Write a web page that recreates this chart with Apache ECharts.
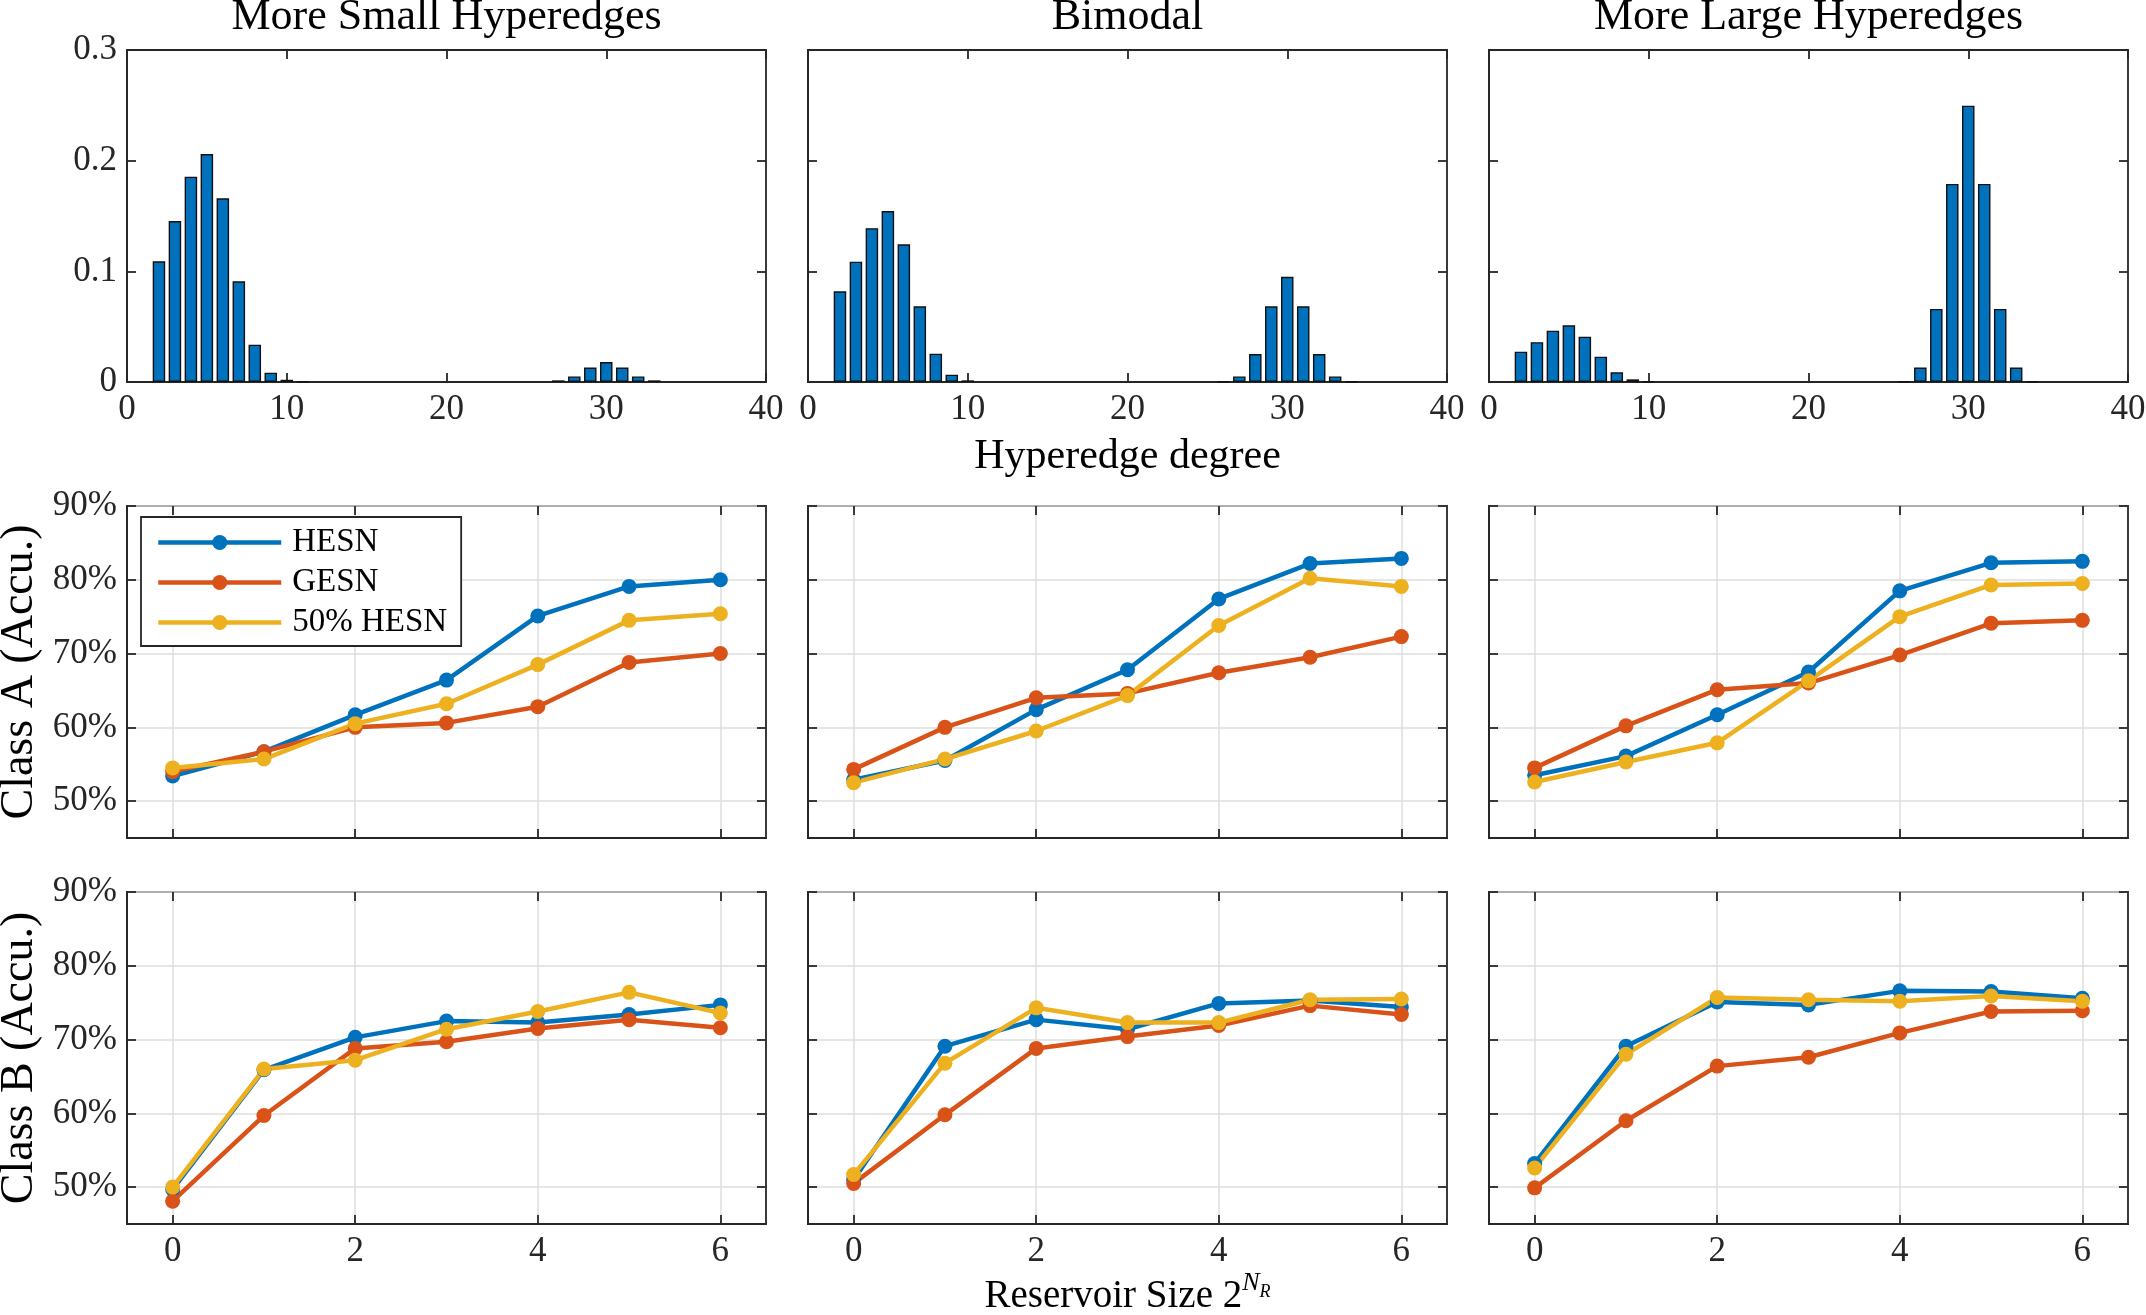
<!DOCTYPE html>
<html>
<head>
<meta charset="utf-8">
<script src="https://cdn.jsdelivr.net/npm/echarts@6/dist/echarts.min.js"></script>
<style>
html, body { margin: 0; padding: 0; background: #fff; }
#main { width: 2146px; height: 1315px; }
</style>
</head>
<body>
<div id="main"></div>
<script>
// hyperedge degree histograms (probability per degree)
const degrees = [2, 3, 4, 5, 6, 7, 8, 9, 10, 11, 26, 27, 28, 29, 30, 31, 32, 33, 34]
const histSmall = [0.109, 0.1455, 0.1855, 0.206, 0.166, 0.091, 0.0337, 0.0084, 0.002, 0.0005, 0, 0.0015, 0.005, 0.013, 0.018, 0.013, 0.005, 0.0015, 0]
const histBimodal = [0.082, 0.1087, 0.139, 0.1545, 0.1244, 0.0684, 0.0256, 0.0066, 0.0015, 0, 0.0005, 0.005, 0.0253, 0.0684, 0.095, 0.0684, 0.0253, 0.005, 0.0005]
const histLarge = [0.0274, 0.036, 0.0464, 0.0512, 0.041, 0.0229, 0.0087, 0.0024, 0.0005, 0, 0.0005, 0.013, 0.066, 0.179, 0.2497, 0.179, 0.066, 0.013, 0.0005]

// reservoir size exponent N_R
const nR = [0, 1, 2, 3, 4, 5, 6]

// Class A accuracy (%)
const aSmallHESN = [53.4, 56.7, 61.7, 66.4, 75.1, 79.1, 80.0]
const aSmallGESN = [54.0, 56.7, 60.0, 60.6, 62.8, 68.8, 70.0]
const aSmallHalf = [54.5, 55.7, 60.5, 63.2, 68.5, 74.5, 75.4]
const aBiHESN = [52.9, 55.5, 62.4, 67.8, 77.4, 82.2, 82.9]
const aBiGESN = [54.3, 60.0, 64.0, 64.6, 67.4, 69.5, 72.3]
const aBiHalf = [52.5, 55.7, 59.5, 64.3, 73.8, 80.2, 79.1]
const aLargeHESN = [53.5, 56.1, 61.7, 67.5, 78.5, 82.3, 82.5]
const aLargeGESN = [54.5, 60.2, 65.1, 66.0, 69.8, 74.1, 74.5]
const aLargeHalf = [52.6, 55.3, 57.9, 66.3, 75.0, 79.3, 79.5]

// Class B accuracy (%)
const bSmallHESN = [49.7, 65.9, 70.3, 72.5, 72.3, 73.4, 74.7]
const bSmallGESN = [48.1, 59.7, 68.8, 69.7, 71.5, 72.7, 71.6]
const bSmallHalf = [50.0, 66.0, 67.2, 71.4, 73.8, 76.4, 73.6]
const bBiHESN = [51.0, 69.1, 72.7, 71.4, 74.9, 75.3, 74.4]
const bBiGESN = [50.5, 59.8, 68.8, 70.4, 71.9, 74.6, 73.4]
const bBiHalf = [51.7, 66.8, 74.3, 72.3, 72.3, 75.4, 75.5]
const bLargeHESN = [53.2, 69.1, 75.1, 74.7, 76.6, 76.5, 75.6]
const bLargeGESN = [49.9, 59.0, 66.4, 67.6, 70.9, 73.8, 73.9]
const bLargeHalf = [52.6, 68.0, 75.7, 75.4, 75.2, 75.9, 75.2]

const colTitles = ['More Small Hyperedges', 'Bimodal', 'More Large Hyperedges']
const seriesNames = ['HESN', 'GESN', '50% HESN']
const lineXTicks = [0, 2, 4, 6]
const accTicks = [50, 60, 70, 80, 90]

const histData = [histSmall, histBimodal, histLarge]
const classA = [[aSmallHESN, aSmallGESN, aSmallHalf], [aBiHESN, aBiGESN, aBiHalf], [aLargeHESN, aLargeGESN, aLargeHalf]]
const classB = [[bSmallHESN, bSmallGESN, bSmallHalf], [bBiHESN, bBiGESN, bBiHalf], [bLargeHESN, bLargeGESN, bLargeHalf]]

const font = 'Liberation Serif'
const axisColor = '#262626'
const lineColors = ['#0072BD', '#D95319', '#EDB120']
const colLeft = [127, 808, 1489]
const colWidth = 639
const rowTop = [50, 506, 892]
const rowHeight = 332
const tickLen = 9

const axisLine = {show: true, onZero: false, lineStyle: {color: axisColor, width: 1.8}}
const tickLabel = {
    fontFamily: font,
    fontSize: 35,
    color: axisColor,
    margin: 10
}
const gridLine = {show: true, lineStyle: {color: '#dedede', width: 1.5}}

let grids = [], xAxes = [], yAxes = [], series = []

// MATLAB-style inward ticks: thin strips along each border whose split lines act as ticks
const addTickStrips = (left, top, xBase, yBase, xCustom, yCustom) => {
    const strips = [
        {box: {left: left, top: top + rowHeight - tickLen, width: colWidth, height: tickLen}, dim: 'x'},
        {box: {left: left, top: top, width: colWidth, height: tickLen}, dim: 'x'},
        {box: {left: left, top: top, width: tickLen, height: rowHeight}, dim: 'y'},
        {box: {left: left + colWidth - tickLen, top: top, width: tickLen, height: rowHeight}, dim: 'y'}
    ]
    strips.forEach(s => {
        let gi = grids.length
        grids.push(Object.assign({show: false, outerBoundsMode: 'none', containLabel: false}, s.box))
        let shown = {
            show: true,
            axisLine: {show: false},
            axisLabel: {show: false},
            splitLine: {show: true, lineStyle: {color: axisColor, width: 1.8}}
        }
        let hidden = {show: false, type: 'value', gridIndex: gi}
        if (s.dim === 'x') {
            xAxes.push(Object.assign({}, xBase, shown, {gridIndex: gi, axisTick: {show: false, customValues: xCustom}}))
            yAxes.push(hidden)
        }
        else {
            xAxes.push(hidden)
            yAxes.push(Object.assign({}, yBase, shown, {gridIndex: gi, axisTick: {show: false, customValues: yCustom}}))
        }
    })
}

for (let r = 0; r < 3; r++) {
    for (let c = 0; c < 3; c++) {
        let g = grids.length
        grids.push({
            left: colLeft[c], top: rowTop[r], width: colWidth, height: rowHeight,
            show: true, borderColor: axisColor, borderWidth: 1.8,
            outerBoundsMode: 'none', containLabel: false
        })
        let xi = xAxes.length, yi = yAxes.length
        let xBase, yBase, xCustom, yCustom
        if (r === 0) {
            // histogram panel
            xBase = {type: 'value', min: 0, max: 40, interval: 10}
            yBase = {type: 'value', min: 0, max: 0.3, interval: 0.1}
            let bottomX = Object.assign({}, xBase, {
                gridIndex: g, position: 'bottom', axisLine: axisLine, axisTick: {show: false}, splitLine: {show: false},
                axisLabel: Object.assign({show: true}, tickLabel)
            })
            if (c === 1) {
                bottomX.name = 'Hyperedge degree'
                bottomX.nameLocation = 'middle'
                bottomX.nameGap = 54
                bottomX.nameTextStyle = {fontFamily: font, fontSize: 42, color: '#000'}
            }
            xAxes.push(bottomX)
            yAxes.push(Object.assign({}, yBase, {
                gridIndex: g, position: 'left', axisLine: axisLine, axisTick: {show: false}, splitLine: {show: false},
                axisLabel: Object.assign({show: c === 0}, tickLabel)
            }))
            series.push({
                type: 'bar',
                name: 'hist',
                xAxisIndex: xi, yAxisIndex: yi,
                barWidth: 12.5,
                silent: true,
                itemStyle: {color: '#0072BD', borderColor: '#111', borderWidth: 1.4},
                data: degrees.map((d, i) => [d, histData[c][i]]).filter(p => p[1] > 0)
            })
        }
        else {
            // accuracy panel
            xBase = {type: 'value', min: -0.5, max: 6.5}
            yBase = {type: 'value', min: 45, max: 90}
            xCustom = lineXTicks
            yCustom = accTicks
            let bottomX = Object.assign({}, xBase, {
                gridIndex: g, position: 'bottom', axisLine: axisLine, splitLine: gridLine,
                axisTick: {show: false, customValues: lineXTicks},
                axisLabel: Object.assign({show: r === 2, customValues: lineXTicks}, tickLabel)
            })
            if (r === 2 && c === 1) {
                bottomX.name = '{a|Reservoir Size 2}{b|N}{c|R}'
                bottomX.nameLocation = 'middle'
                bottomX.nameGap = 46
                bottomX.nameTextStyle = {
                    rich: {
                        a: {fontFamily: font, fontSize: 39, color: '#000', lineHeight: 44, verticalAlign: 'bottom'},
                        b: {fontFamily: font, fontSize: 26, fontStyle: 'italic', color: '#000', lineHeight: 24, verticalAlign: 'bottom', padding: [0, 0, 20, 0]},
                        c: {fontFamily: font, fontSize: 18, fontStyle: 'italic', color: '#000', lineHeight: 20, verticalAlign: 'bottom', padding: [0, 0, 15, 0]}
                    }
                }
            }
            xAxes.push(bottomX)
            let leftY = Object.assign({}, yBase, {
                gridIndex: g, position: 'left', axisLine: axisLine, splitLine: gridLine,
                axisTick: {show: false, customValues: accTicks},
                axisLabel: Object.assign({show: c === 0, customValues: accTicks, formatter: '{value}%'}, tickLabel)
            })
            if (c === 0) {
                leftY.name = r === 1 ? 'Class A (Accu.)' : 'Class B (Accu.)'
                leftY.nameLocation = 'middle'
                leftY.nameRotate = 90
                leftY.nameGap = 84
                leftY.nameTextStyle = {fontFamily: font, fontSize: 46, color: '#000'}
            }
            yAxes.push(leftY)
            let sets = r === 1 ? classA[c] : classB[c]
            sets.forEach((vals, k) => {
                series.push({
                    type: 'line',
                    name: seriesNames[k],
                    xAxisIndex: xi, yAxisIndex: yi,
                    symbol: 'circle',
                    symbolSize: 15,
                    lineStyle: {width: 4.5, color: lineColors[k]},
                    itemStyle: {color: lineColors[k]},
                    emphasis: {disabled: true},
                    data: nR.map((x, i) => [x, vals[i]])
                })
            })
        }
        addTickStrips(colLeft[c], rowTop[r], xBase, yBase, xCustom, yCustom)
    }
}

let myChart = echarts.init(document.getElementById('main'))
myChart.setOption({
    backgroundColor: '#fff',
    animation: false,
    title: colTitles.map((t, c) => ({
        text: t,
        left: colLeft[c] + colWidth / 2,
        top: -5,
        textAlign: 'center',
        padding: 0,
        textStyle: {fontFamily: font, fontSize: 44, fontWeight: 'normal', color: '#000'}
    })),
    legend: {
        data: seriesNames,
        orient: 'vertical',
        left: 141,
        top: 517,
        padding: [9, 14, 7, 15],
        itemWidth: 123,
        itemHeight: 19,
        itemGap: 7,
        selectedMode: false,
        backgroundColor: '#fff',
        borderColor: axisColor,
        borderWidth: 1.8,
        borderRadius: 0,
        lineStyle: {width: 4.5},
        textStyle: {fontFamily: font, fontSize: 33, color: '#000', lineHeight: 30, padding: [0, 0, 0, 6]}
    },
    grid: grids,
    xAxis: xAxes,
    yAxis: yAxes,
    series: series
})
</script>
</body>
</html>
